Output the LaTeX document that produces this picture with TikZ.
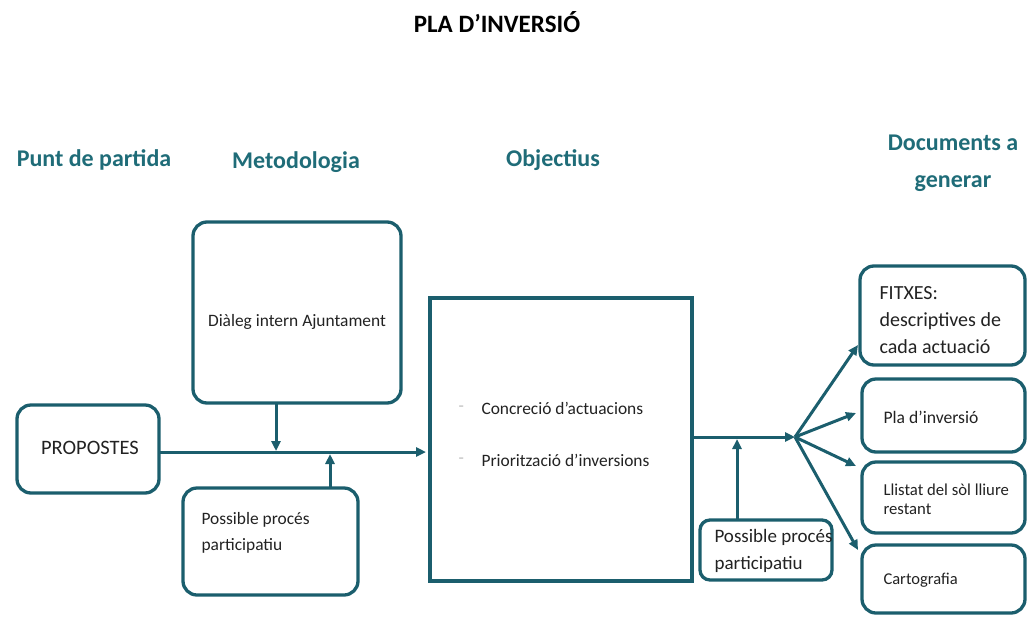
\documentclass[tikz,border=0pt]{standalone}
\usepackage{fontspec}
\setmainfont{Carlito}
\usetikzlibrary{arrows.meta}
\definecolor{teal1}{HTML}{1B5E6D}
\definecolor{head}{HTML}{1F6C78}
\definecolor{txt}{HTML}{222222}
\tikzset{
  rbox/.style={draw=teal1, line width=3.3pt, rounded corners=14pt, fill=white},
  sbox/.style={draw=teal1, line width=3.3pt, fill=white},
  heading/.style={text=head, font=\fontsize{24}{37}\selectfont\bfseries, align=center},
  btxt/.style={text=txt, font=\fontsize{17.4}{26}\selectfont, align=left, anchor=west},
  conn/.style={draw=teal1, line width=3pt},
  arr/.style={conn, -{Triangle[length=10pt,width=9pt]}},
}
\begin{document}
\begin{tikzpicture}[x=1pt,y=-1pt]
\useasboundingbox (0,0) rectangle (1027,616);
% title and headings
\node[font=\fontsize{25}{30}\selectfont\bfseries, text=black] (title) at (497,22) {PLA D’INVERSIÓ};
\node[heading] (h1) at (94,160) {Punt de partida};
\node[heading] (h2) at (296,162) {Metodologia};
\node[heading] (h3) at (553,160) {Objectius};
\node[heading] (h4) at (953,163) {Documents a\\generar};
% boxes
\draw[rbox] (193,222) rectangle (401,403);
\node[btxt, anchor=center] (dial) at (297,322) {Diàleg intern Ajuntament};
\coordinate (dialB) at (276,403);
\draw[rbox] (17,405) rectangle (159,493);
\node[btxt, anchor=center, font=\fontsize{20.5}{24}\selectfont] (prop) at (90,448) {PROPOSTES};
\coordinate (propR) at (159,452);
\draw[rbox] (183,488) rectangle (358,595);
\node[btxt] (pp1) at (198,533) {Possible procés\\participatiu};
\coordinate (pp1T) at (330,488);
\draw[sbox] (430,298) rectangle (692,581);
\node[btxt, text=gray!50] (d1) at (455,409) {-};
\node[btxt] (c1) at (478,408) {Concreció d’actuacions};
\node[btxt, text=gray!50] (d2) at (455,461) {-};
\node[btxt] (c2) at (478,460) {Priorització d’inversions};
\coordinate (objL) at (426,452);
\coordinate (objR) at (692,437);
\draw[rbox, rounded corners=10pt] (700,520) rectangle (832,580);
\node[btxt, font=\fontsize{19}{27}\selectfont] (pp2) at (711,551) {Possible procés\\participatiu};
\coordinate (pp2T) at (737,520);
\coordinate (hub) at (795,437);
% documents
\draw[rbox] (860,266) rectangle (1025,365);
\node[btxt, font=\fontsize{20}{27}\selectfont] (f) at (876,320) {FITXES:\\descriptives de\\cada actuació};
\draw[rbox] (862,379) rectangle (1025,452);
\node[btxt, font=\fontsize{17.6}{26}\selectfont] (pla) at (880,417) {Pla d’inversió};
\draw[rbox] (862,462) rectangle (1025,533);
\node[btxt, font=\fontsize{16.7}{19}\selectfont] (ll) at (880,499) {Llistat del sòl lliure\\restant};
\draw[rbox] (862,545) rectangle (1025,613);
\node[btxt, font=\fontsize{16.5}{20}\selectfont] (cart) at (880,580) {Cartografia};
% connectors
\draw[arr] (propR) -- (objL);
\draw[arr] (dialB) -- (276,451);
\draw[arr] (pp1T) -- (330,454);
\draw[arr] (objR) -- (hub);
\draw[arr] (pp2T) -- (737,439);
\draw[arr] (hub) -- (858,345);
\draw[arr] (hub) -- (856,413);
\draw[arr] (hub) -- (856,466);
\draw[arr] (hub) -- (858,550);
\end{tikzpicture}
\end{document}
